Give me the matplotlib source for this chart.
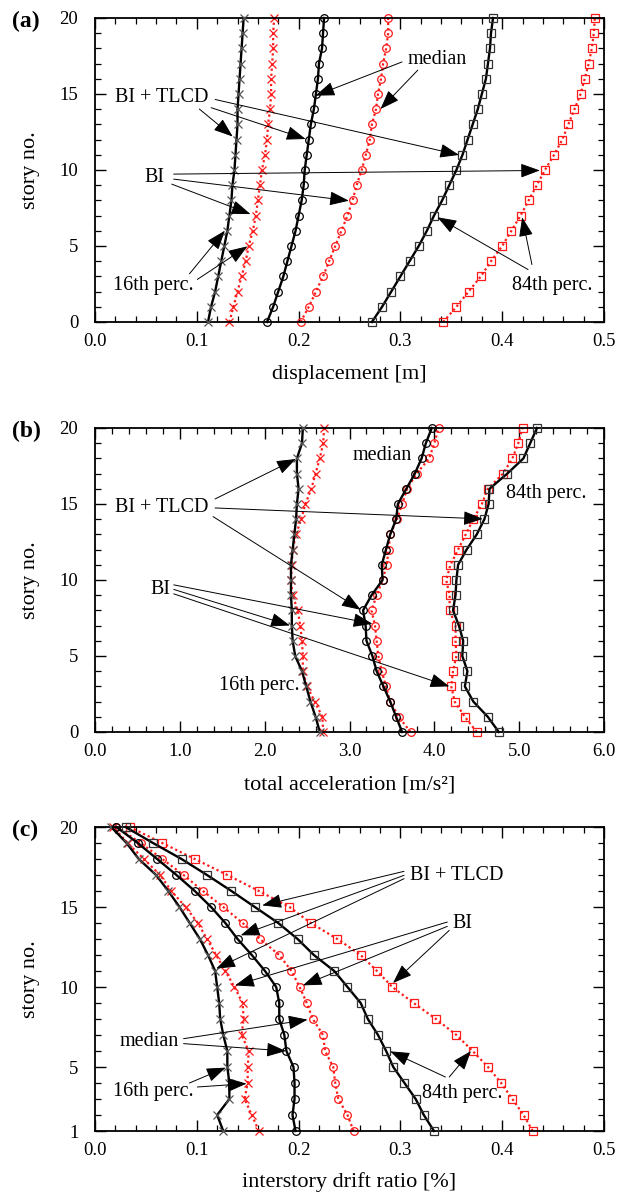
import numpy as np
import matplotlib
matplotlib.use("Agg")
import matplotlib.pyplot as plt
from matplotlib.ticker import MultipleLocator, FormatStrFormatter

plt.rcParams['font.family'] = ['Liberation Serif', 'DejaVu Serif']

# story numbers
stories = np.arange(0, 21)
stories_c = np.arange(1, 21)

# (a) displacement [m], story 0..20
disp_tlcd_16 = [0.111, 0.114, 0.118, 0.121, 0.124, 0.127, 0.130, 0.132, 0.134, 0.135, 0.137,
                0.138, 0.139, 0.140, 0.140, 0.141, 0.142, 0.143, 0.144, 0.145, 0.146]
disp_bi_16 = [0.132, 0.136, 0.140, 0.144, 0.148, 0.151, 0.155, 0.158, 0.160, 0.162, 0.164,
              0.167, 0.169, 0.170, 0.172, 0.173, 0.173, 0.174, 0.175, 0.175, 0.176]
disp_tlcd_50 = [0.169, 0.175, 0.180, 0.185, 0.189, 0.193, 0.197, 0.200, 0.203, 0.205, 0.206,
                0.208, 0.210, 0.212, 0.215, 0.217, 0.219, 0.220, 0.223, 0.224, 0.225]
disp_bi_50 = [0.202, 0.210, 0.217, 0.224, 0.230, 0.236, 0.242, 0.248, 0.253, 0.257, 0.262,
              0.266, 0.270, 0.272, 0.276, 0.278, 0.281, 0.283, 0.286, 0.288, 0.288]
disp_tlcd_84 = [0.272, 0.282, 0.291, 0.300, 0.309, 0.318, 0.326, 0.333, 0.341, 0.348, 0.355,
                0.361, 0.366, 0.371, 0.376, 0.380, 0.384, 0.386, 0.388, 0.389, 0.391]
disp_bi_84 = [0.342, 0.355, 0.367, 0.379, 0.389, 0.400, 0.409, 0.418, 0.426, 0.434, 0.442,
              0.451, 0.459, 0.465, 0.471, 0.477, 0.481, 0.485, 0.488, 0.490, 0.491]

# (b) total acceleration [m/s2], story 0..20
acc_tlcd_16 = [2.65, 2.60, 2.54, 2.49, 2.44, 2.36, 2.33, 2.32, 2.32, 2.31, 2.31,
               2.31, 2.33, 2.35, 2.37, 2.38, 2.40, 2.38, 2.38, 2.44, 2.45]
acc_bi_16 = [2.69, 2.68, 2.59, 2.50, 2.45, 2.45, 2.44, 2.42, 2.39, 2.33, 2.31,
             2.32, 2.33, 2.37, 2.43, 2.48, 2.55, 2.60, 2.65, 2.69, 2.70]
acc_tlcd_50 = [3.62, 3.55, 3.48, 3.40, 3.32, 3.27, 3.20, 3.19, 3.16, 3.26, 3.39,
               3.38, 3.43, 3.48, 3.55, 3.57, 3.67, 3.77, 3.85, 3.90, 3.97]
acc_bi_50 = [3.72, 3.58, 3.48, 3.43, 3.38, 3.34, 3.32, 3.30, 3.26, 3.32, 3.39,
             3.44, 3.46, 3.48, 3.56, 3.62, 3.68, 3.79, 3.94, 4.00, 4.05]
acc_tlcd_84 = [4.76, 4.63, 4.46, 4.36, 4.39, 4.33, 4.34, 4.29, 4.22, 4.25, 4.26,
               4.28, 4.38, 4.50, 4.59, 4.64, 4.65, 4.86, 5.05, 5.13, 5.21]
acc_bi_84 = [4.50, 4.36, 4.24, 4.20, 4.22, 4.26, 4.25, 4.25, 4.18, 4.18, 4.14,
             4.19, 4.28, 4.37, 4.46, 4.56, 4.63, 4.81, 4.92, 4.99, 5.04]

# (c) interstory drift ratio [%], story 1..20
drift_tlcd_16 = [0.126, 0.120, 0.132, 0.132, 0.130, 0.130, 0.126, 0.123, 0.122, 0.120,
                 0.118, 0.111, 0.103, 0.093, 0.083, 0.072, 0.060, 0.043, 0.031, 0.016]
drift_bi_16 = [0.161, 0.154, 0.147, 0.150, 0.150, 0.151, 0.144, 0.146, 0.145, 0.137,
               0.128, 0.119, 0.110, 0.101, 0.089, 0.075, 0.064, 0.048, 0.032, 0.018]
drift_tlcd_50 = [0.197, 0.194, 0.196, 0.196, 0.195, 0.188, 0.186, 0.181, 0.181, 0.178,
                 0.167, 0.154, 0.140, 0.128, 0.114, 0.098, 0.080, 0.061, 0.042, 0.021]
drift_bi_50 = [0.254, 0.248, 0.239, 0.236, 0.234, 0.226, 0.224, 0.214, 0.208, 0.201,
               0.193, 0.181, 0.162, 0.145, 0.126, 0.106, 0.087, 0.066, 0.045, 0.021]
drift_tlcd_84 = [0.333, 0.323, 0.315, 0.304, 0.293, 0.286, 0.278, 0.268, 0.261, 0.248,
                 0.235, 0.215, 0.199, 0.180, 0.157, 0.134, 0.110, 0.085, 0.057, 0.030]
drift_bi_84 = [0.430, 0.421, 0.410, 0.399, 0.386, 0.371, 0.355, 0.335, 0.313, 0.292,
               0.277, 0.261, 0.238, 0.212, 0.191, 0.161, 0.130, 0.098, 0.066, 0.034]

RED = '#ff1a1a'
FS_TICK = 13.5
FS_LAB = 16
FS_ANN = 14.5

arrow_kw = dict(arrowstyle='-|>,head_length=0.6,head_width=0.22', color='black',
                lw=0.7, mutation_scale=20, shrinkA=0, shrinkB=0)


def plot_set(ax, y, t16, b16, t50, b50, t84, b84):
    red_kw = dict(color=RED, lw=1.6, ls=(0, (1, 1.3)), mfc='none', mew=0.9, ms=5.5,
                  zorder=2, clip_on=False)
    ax.plot(b16, y, marker='x', mec=RED, **red_kw)
    ax.plot(b50, y, marker='o', mec=RED, **red_kw)
    ax.plot(b84, y, marker='s', mec=RED, **red_kw)
    blk_kw = dict(color='black', lw=1.7, mfc='none', mew=0.9, ms=5.5, zorder=3, clip_on=False)
    ax.plot(t16, y, marker='x', mec='#555555', **blk_kw)
    ax.plot(t50, y, marker='o', mec='black', **blk_kw)
    ax.plot(t84, y, marker='s', mec='#333333', **blk_kw)


def style(ax, xmax, xmaj, xmin, fmt, ymin, yticks):
    ax.set_xlim(0, xmax)
    ax.set_ylim(ymin, 20)
    ax.xaxis.set_major_locator(MultipleLocator(xmaj))
    ax.xaxis.set_minor_locator(MultipleLocator(xmin))
    ax.xaxis.set_major_formatter(FormatStrFormatter(fmt))
    ax.set_yticks(yticks)
    ax.yaxis.set_minor_locator(MultipleLocator(1))
    ax.tick_params(which='both', direction='in', top=True, right=True, labelsize=FS_TICK)
    ax.tick_params(which='major', length=8, width=1.0)
    ax.tick_params(which='minor', length=4.5, width=0.9)
    ax.tick_params(axis='x', which='major', pad=8)
    ax.tick_params(axis='y', which='major', pad=12)
    for s in ax.spines.values():
        s.set_linewidth(1.3)
    ax.set_ylabel('story no.', fontsize=FS_LAB, labelpad=14)


def arrows(ax, pairs):
    for start, tip in pairs:
        ax.annotate('', xy=tip, xytext=start, arrowprops=arrow_kw, zorder=5)


fig = plt.figure(figsize=(6.18, 11.97), dpi=100)
H = 1197.0
W = 618.0
left = 95 / W
width = (604 - 95) / W
height = 304 / H

# ---------- (a)
ax1 = fig.add_axes([left, 1 - 322 / H, width, height])
plot_set(ax1, stories, disp_tlcd_16, disp_bi_16, disp_tlcd_50, disp_bi_50, disp_tlcd_84, disp_bi_84)
style(ax1, 0.5, 0.1, 0.02, '%.1f', 0, [0, 5, 10, 15, 20])
ax1.set_xlabel('displacement [m]', fontsize=FS_LAB, labelpad=11)
ax1.text(0.307, 17.3, 'median', fontsize=FS_ANN, va='center', ha='left')
ax1.text(0.0193, 14.78, 'BI + TLCD', fontsize=FS_ANN, va='center', ha='left')
ax1.text(0.058, 9.53, 'BI', fontsize=FS_ANN, va='center', ha='center')
ax1.text(0.0572, 2.43, '16th perc.', fontsize=FS_ANN, va='center', ha='center')
ax1.text(0.4494, 2.43, '84th perc.', fontsize=FS_ANN, va='center', ha='center')
arrows(ax1, [((0.3016, 17.11), (0.2166, 14.89)),
             ((0.3171, 16.57), (0.2804, 14.01)),
             ((0.1025, 14.01), (0.1353, 12.2)),
             ((0.1141, 14.1), (0.2069, 12.04)),
             ((0.118, 14.64), (0.3577, 10.99)),
             ((0.0773, 9.73), (0.437, 9.97)),
             ((0.0773, 9.4), (0.2494, 7.98)),
             ((0.0754, 9.07), (0.1527, 7.1)),
             ((0.0928, 3.17), (0.1276, 6.01)),
             ((0.1005, 2.8), (0.1497, 4.98)),
             ((0.4254, 3.45), (0.3364, 6.89)),
             ((0.4292, 3.78), (0.4196, 6.89))])

# ---------- (b)
ax2 = fig.add_axes([left, 1 - 732 / H, width, height])
plot_set(ax2, stories, acc_tlcd_16, acc_bi_16, acc_tlcd_50, acc_bi_50, acc_tlcd_84, acc_bi_84)
style(ax2, 6.0, 1.0, 0.2, '%.1f', 0, [0, 5, 10, 15, 20])
ax2.set_xlabel('total acceleration [m/s²]', fontsize=FS_LAB, labelpad=11)
ax2.text(3.04, 18.18, 'median', fontsize=FS_ANN, va='center', ha='left')
ax2.text(4.84, 15.66, '84th perc.', fontsize=FS_ANN, va='center', ha='left')
ax2.text(0.232, 14.79, 'BI + TLCD', fontsize=FS_ANN, va='center', ha='left')
ax2.text(0.766, 9.35, 'BI', fontsize=FS_ANN, va='center', ha='center')
ax2.text(1.935, 3.07, '16th perc.', fontsize=FS_ANN, va='center', ha='center')
arrows(ax2, [((1.415, 15.33), (2.367, 17.96)),
             ((1.415, 14.74), (4.571, 14.02)),
             ((1.392, 14.17), (3.132, 8.04)),
             ((0.928, 9.68), (3.27, 7.12)),
             ((0.928, 9.38), (2.297, 7.01)),
             ((0.928, 9.09), (4.176, 3.0))])

# ---------- (c)
ax3 = fig.add_axes([left, 1 - 1131 / H, width, height])
plot_set(ax3, stories_c, drift_tlcd_16, drift_bi_16, drift_tlcd_50, drift_bi_50, drift_tlcd_84, drift_bi_84)
style(ax3, 0.5, 0.1, 0.02, '%.1f', 1, [1, 5, 10, 15, 20])
ax3.set_xlabel('interstory drift ratio [%]', fontsize=FS_LAB, labelpad=9)
ax3.text(0.3094, 16.98, 'BI + TLCD', fontsize=FS_ANN, va='center', ha='left')
ax3.text(0.3608, 14.0, 'BI', fontsize=FS_ANN, va='center', ha='center')
ax3.text(0.053, 6.625, 'median', fontsize=FS_ANN, va='center', ha='center')
ax3.text(0.0572, 3.44, '16th perc.', fontsize=FS_ANN, va='center', ha='center')
ax3.text(0.3604, 3.33, '84th perc.', fontsize=FS_ANN, va='center', ha='center')
arrows(ax3, [((0.3036, 17.23), (0.1643, 15.1)),
             ((0.3036, 16.98), (0.1431, 13.23)),
             ((0.3036, 16.77), (0.1191, 11.15)),
             ((0.3461, 14.06), (0.1377, 10.1)),
             ((0.3461, 13.79), (0.2042, 10.1)),
             ((0.348, 13.54), (0.2927, 10.25)),
             ((0.087, 6.77), (0.2088, 7.96)),
             ((0.087, 6.46), (0.1875, 6.0)),
             ((0.0928, 4.0), (0.1284, 4.96)),
             ((0.1005, 3.75), (0.1489, 3.96)),
             ((0.3442, 4.375), (0.29, 5.98)),
             ((0.348, 4.375), (0.3693, 6.0))])

# panel letters
for lab, ytop in (('(a)', 18), ('(b)', 428), ('(c)', 827)):
    fig.text(12 / W, 1 - (ytop + 3) / H, lab, fontsize=17, fontweight='bold', va='center', ha='left')

fig.savefig('out.png', dpi=100)
